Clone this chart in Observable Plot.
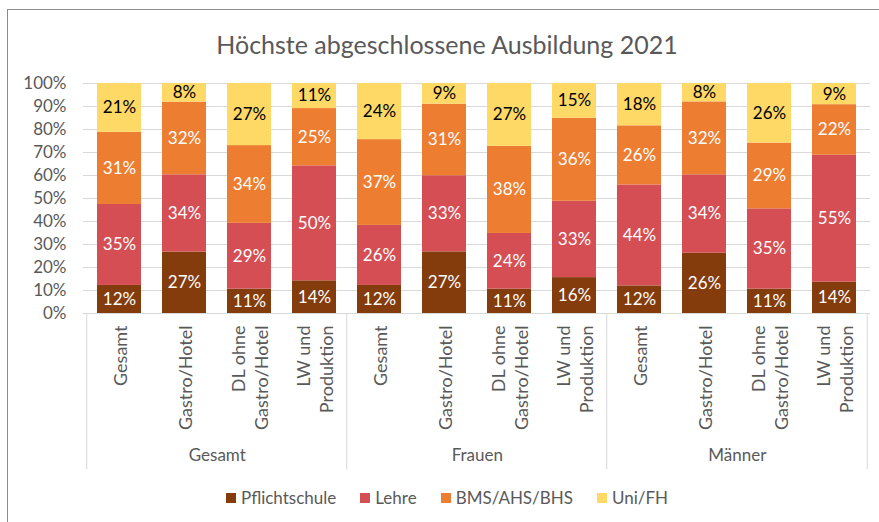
<!DOCTYPE html>
<html><head><meta charset="utf-8">
<script src="https://cdn.jsdelivr.net/npm/d3@7"></script>
<script src="https://cdn.jsdelivr.net/npm/@observablehq/plot@0.6"></script>
<style>
body{margin:0;background:#fff;font-family:Lato,sans-serif;}
#wrap{position:relative;width:879px;height:522px;overflow:hidden;background:#fff;}
#frame{position:absolute;left:7px;top:9px;width:900px;height:600px;border-left:1px solid #8c8c8c;border-top:1px solid #8c8c8c;}
#title{position:absolute;left:0;width:894px;top:29px;text-align:center;font-size:25px;color:#595959;white-space:nowrap;}
#chart{position:absolute;left:0;top:0;}
#legend{position:absolute;left:0;width:894px;top:487px;display:flex;justify-content:center;gap:24px;font-size:17px;color:#595959;}
#legend span.sw{display:inline-block;width:10px;height:10px;margin-right:5px;vertical-align:middle;position:relative;top:-2px;}
</style></head>
<body>
<div id="wrap">
  <div id="frame"></div>
  <div id="title">Höchste abgeschlossene Ausbildung 2021</div>
  <div id="chart"></div>
  <div id="legend"></div>
</div>
<script>
const groups = ["Gesamt", "Frauen", "Männer"];
const categories = ["Gesamt", "Gastro/Hotel", "DL ohne\nGastro/Hotel", "LW und\nProduktion"];
const levels = ["Pflichtschule", "Lehre", "BMS/AHS/BHS", "Uni/FH"];
const colors = ["#843C0C", "#D44E53", "#ED7D31", "#FFD966"];
// values in percent, order: Gesamt(4 cats), Frauen(4 cats), Männer(4 cats)
const pflichtschule = [12.2, 26.7, 10.6, 14.2, 12.2, 26.8, 10.6, 15.6, 12.0, 26.2, 10.6, 13.6];
const lehre         = [35.2, 33.6, 28.6, 50.0, 26.1, 33.1, 24.2, 33.2, 43.9, 34.1, 34.9, 55.2];
const bms           = [31.4, 31.6, 33.8, 24.9, 37.3, 31.1, 37.9, 36.1, 25.7, 31.7, 28.6, 22.0];
const uni           = [21.2,  8.1, 27.0, 10.9, 24.4,  9.0, 27.3, 15.1, 18.4,  8.0, 25.9,  9.2];
const yTicks = [0, 10, 20, 30, 40, 50, 60, 70, 80, 90, 100];

const series = [pflichtschule, lehre, bms, uni];
const keys = [];
const bars = [];
groups.forEach(g => categories.forEach(c => keys.push({key: g + "|" + c, group: g, cat: c})));
keys.forEach((k, i) => {
  let acc = 0;
  levels.forEach((lv, j) => {
    const v = series[j][i];
    bars.push({key: k.key, level: lv, value: v, y1: acc, y2: acc + v, mid: acc + v / 2});
    acc += v;
  });
});
const W = 879, H = 522, ML = 83, MR = 9, MT = 83, MB = 209;
const step = (W - ML - MR) / keys.length;
const keyIds = keys.map(k => k.key);
const groupStarts = groups.map(g => keys.find(k => k.group === g));
const groupMids = groups.map(g => ({group: g, key: keys.filter(k => k.group === g)[1].key}));

const chart = Plot.plot({
  width: W, height: H,
  marginLeft: ML, marginRight: MR, marginTop: MT, marginBottom: MB,
  style: {fontFamily: "Lato, sans-serif", fontSize: "17px", color: "#595959", background: "transparent"},
  x: {domain: keyIds, paddingInner: 0.33, paddingOuter: 0.165, axis: null},
  y: {domain: [0, 100], ticks: yTicks, tickFormat: d => d + "%", tickSize: 0, tickPadding: 17, label: null},
  color: {domain: levels, range: colors},
  marks: [
    Plot.ruleY(yTicks, {stroke: "#d9d9d9", strokeWidth: 1}),
    Plot.barY(bars, {x: "key", y1: "y1", y2: "y2", fill: "level"}),
    Plot.text(bars.filter(d => d.level !== "Uni/FH"), {x: "key", y: "mid", text: d => Math.round(d.value) + "%", fill: "white", fontSize: 17}),
    Plot.text(bars.filter(d => d.level === "Uni/FH"), {x: "key", y: "mid", text: d => Math.round(d.value) + "%", fill: "black", fontSize: 17}),
    Plot.ruleX(groupStarts, {x: "key", dx: -step / 2, y1: () => 0, y2: () => -68, stroke: "#d9d9d9"}),
    Plot.ruleX([keys[keys.length - 1]], {x: "key", dx: step / 2, y1: () => 0, y2: () => -68, stroke: "#d9d9d9"}),
    Plot.text(keys, {x: "key", frameAnchor: "bottom", dy: 12, text: "cat", rotate: -90, textAnchor: "end", lineAnchor: "middle", lineHeight: 1.25, fill: "#595959", fontSize: 18}),
    Plot.text(groupMids, {x: "key", frameAnchor: "bottom", dx: step / 2, dy: 147, text: "group", fill: "#595959", fontSize: 17})
  ]
});
document.getElementById("chart").appendChild(chart);

const legend = document.getElementById("legend");
levels.forEach((lv, i) => {
  const item = document.createElement("div");
  item.innerHTML = `<span class="sw" style="background:${colors[i]}"></span>${lv}`;
  legend.appendChild(item);
});
</script>
</body></html>
